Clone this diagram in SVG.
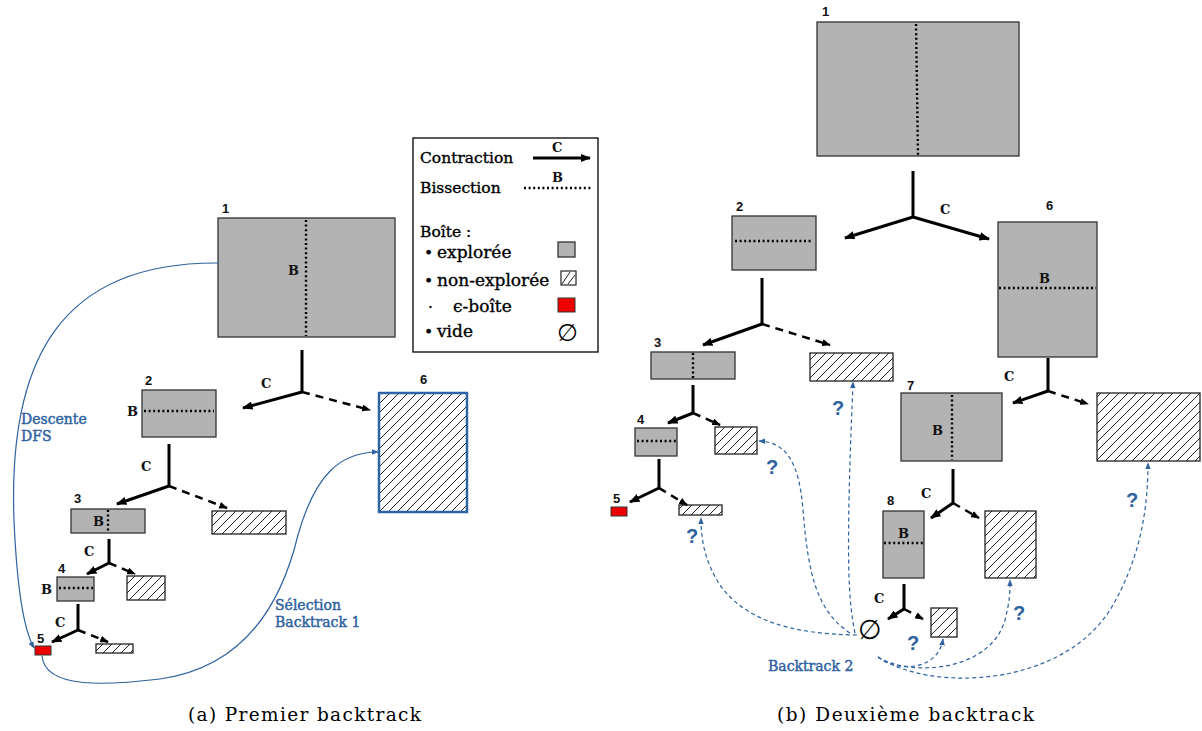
<svg xmlns="http://www.w3.org/2000/svg" width="1202" height="731" viewBox="0 0 1202 731">
<style>
.box{fill:#b3b3b3;stroke:#333;stroke-width:1.3}
.hatch{fill:url(#hp);stroke:#222;stroke-width:1.3}
.red{fill:#ee0000;stroke:#333;stroke-width:1}
.dot{stroke:#000;stroke-width:2.4;stroke-dasharray:2 2.6;fill:none}
.stem{stroke:#000;stroke-width:3;fill:none}
.sol{stroke:#000;stroke-width:3;fill:none;marker-end:url(#ah)}
.das{stroke:#000;stroke-width:2.5;stroke-dasharray:8 6;fill:none;marker-end:url(#ah)}
.num{font-family:"Liberation Sans",Arial,sans-serif;font-weight:bold;font-size:13px;fill:#111}
.lbl{font-family:"DejaVu Serif",serif;font-weight:bold;font-size:13px;fill:#111}
.leg{font-family:"DejaVu Serif",serif;font-size:15.5px;fill:#000;stroke:#000;stroke-width:0.35}
.item{font-size:17px}
.blue{font-family:"DejaVu Serif",serif;font-size:14px;fill:#2f62a0;stroke:#2f62a0;stroke-width:0.45}
.q{font-family:"Liberation Sans",Arial,sans-serif;font-weight:bold;font-size:20px;fill:#2f62a0}
.bsol{stroke:#2f62a0;stroke-width:1.2;fill:none;marker-end:url(#bh)}
.bdas{stroke:#2f62a0;stroke-width:1.2;stroke-dasharray:4 3;fill:none;marker-end:url(#bh)}
.cap{font-family:"DejaVu Serif",serif;font-size:18.5px;fill:#000}
.empty{font-family:"DejaVu Sans",sans-serif;fill:#000}
</style>
<defs>
<pattern id="hp" patternUnits="userSpaceOnUse" width="9" height="9">
<path d="M-1,10 L10,-1 M-1,1 L1,-1 M8,10 L10,8" stroke="#222" stroke-width="1"/>
</pattern>
<marker id="ah" viewBox="0 0 10 8" refX="9" refY="4" markerWidth="3.5" markerHeight="2.8" orient="auto">
<path d="M0,0 L10,4 L0,8 z" fill="#000"/>
</marker>
<marker id="bh" viewBox="0 0 10 8" refX="9" refY="4" markerWidth="7" markerHeight="5.6" orient="auto" markerUnits="userSpaceOnUse">
<path d="M0,0 L10,4 L0,8 z" fill="#2f62a0"/>
</marker>
</defs>
<rect width="1202" height="731" fill="#fff"/>

<!-- Legend -->
<g id="legend">
<rect x="413" y="138" width="185" height="214" fill="#fff" stroke="#000" stroke-width="1.3"/>
<text class="leg" x="420" y="163">Contraction</text>
<line x1="533" y1="158" x2="590" y2="158" class="sol" stroke-width="2.5"/>
<text class="lbl" x="552" y="152">C</text>
<text class="leg" x="420" y="193">Bissection</text>
<line x1="524" y1="188" x2="592" y2="188" class="dot" stroke-width="2"/>
<text class="lbl" x="552" y="182">B</text>
<text class="leg" x="420" y="237">Boîte :</text>
<text class="leg" x="424" y="258">•</text>
<text class="leg item" x="437" y="258">explorée</text>
<rect class="box" x="558" y="242" width="17" height="15"/>
<text class="leg" x="424" y="286">•</text>
<text class="leg item" x="437" y="286">non-explorée</text>
<rect x="561" y="271" width="15" height="14" fill="#fff" stroke="#222" stroke-width="1.2"/>
<path d="M562,284 L570,272 M568,284 L575,275" stroke="#222" stroke-width="1"/>
<text class="leg" x="428" y="312">·</text>
<text class="leg item" x="453" y="312">ϵ-boîte</text>
<rect class="red" x="558" y="298" width="17" height="14"/>
<text class="leg" x="424" y="337">•</text>
<text class="leg item" x="437" y="337">vide</text>
<text class="empty" x="557" y="341" font-size="24">∅</text>
</g>

<!-- Left panel nodes -->
<g id="a1">
<rect class="box" x="218" y="218" width="177" height="119"/>
<line class="dot" x1="306" y1="220" x2="306" y2="336"/>
<text class="lbl" x="288" y="275">B</text>
<text class="num" x="222" y="213">1</text>
</g>
<g id="a2">
<rect class="box" x="142" y="390" width="74" height="47"/>
<line class="dot" x1="144" y1="411" x2="214" y2="411"/>
<text class="lbl" x="127" y="416">B</text>
<text class="num" x="145" y="385">2</text>
</g>
<g id="a6">
<rect x="379" y="393" width="88" height="119" fill="url(#hp)" stroke="#2e64a4" stroke-width="2.5"/>
<text class="num" x="420" y="384">6</text>
</g>
<g id="a3">
<rect class="box" x="71" y="509" width="74" height="24"/>
<line class="dot" x1="108" y1="510" x2="108" y2="532"/>
<text class="lbl" x="93" y="526">B</text>
<text class="num" x="74" y="503">3</text>
</g>
<g id="a3h"><rect class="hatch" x="212" y="511" width="74" height="23"/></g>
<g id="a4">
<rect class="box" x="57" y="577" width="37" height="24"/>
<line class="dot" x1="59" y1="588" x2="93" y2="588"/>
<text class="lbl" x="41" y="594">B</text>
<text class="num" x="58" y="573">4</text>
</g>
<g id="a4h"><rect class="hatch" x="127" y="576" width="38" height="24"/></g>
<g id="a5">
<rect class="red" x="35" y="646" width="16" height="9"/>
<text class="num" x="37" y="643">5</text>
</g>
<g id="a5h"><rect class="hatch" x="96" y="644" width="37" height="9"/></g>

<!-- Right panel nodes -->
<g id="b1">
<rect class="box" x="817" y="22" width="202" height="134"/>
<line class="dot" x1="916" y1="24" x2="918" y2="155"/>
<text class="num" x="822" y="16">1</text>
</g>
<g id="b2">
<rect class="box" x="732" y="216" width="84" height="54"/>
<line class="dot" x1="735" y1="241" x2="813" y2="241"/>
<text class="num" x="736" y="211">2</text>
</g>
<g id="b6">
<rect class="box" x="998" y="222" width="99" height="135"/>
<line class="dot" x1="999" y1="288" x2="1096" y2="288"/>
<text class="lbl" x="1039" y="283">B</text>
<text class="num" x="1046" y="210">6</text>
</g>
<g id="b3">
<rect class="box" x="651" y="352" width="84" height="27"/>
<line class="dot" x1="693" y1="353" x2="693" y2="378"/>
<text class="num" x="654" y="347">3</text>
</g>
<g id="b3h"><rect class="hatch" x="810" y="353" width="83" height="28"/></g>
<g id="b4">
<rect class="box" x="635" y="428" width="42" height="28"/>
<line class="dot" x1="637" y1="441" x2="676" y2="441"/>
<text class="num" x="637" y="424">4</text>
</g>
<g id="b4h"><rect class="hatch" x="715" y="427" width="42" height="27"/></g>
<g id="b5">
<rect class="red" x="611" y="507" width="16" height="9"/>
<text class="num" x="613" y="503">5</text>
</g>
<g id="b5h"><rect class="hatch" x="679" y="505" width="43" height="10"/></g>
<g id="b7">
<rect class="box" x="901" y="393" width="101" height="68"/>
<line class="dot" x1="952" y1="395" x2="952" y2="460"/>
<text class="lbl" x="932" y="435">B</text>
<text class="num" x="907" y="390">7</text>
</g>
<g id="b7h"><rect class="hatch" x="1097" y="393" width="103" height="68"/></g>
<g id="b8">
<rect class="box" x="883" y="511" width="41" height="67"/>
<line class="dot" x1="884" y1="543" x2="923" y2="543"/>
<text class="lbl" x="898" y="538">B</text>
<text class="num" x="887" y="505">8</text>
</g>
<g id="b8h"><rect class="hatch" x="985" y="511" width="51" height="67"/></g>
<g id="b9h"><rect class="hatch" x="931" y="608" width="26" height="29"/></g>
<g id="bempty"><text class="empty" x="858" y="639" font-size="27">∅</text></g>

<!-- Connectors -->
<g id="connectors">
<path class="stem" d="M302,350 V392"/>
<path class="sol" d="M302,392 L243,408"/>
<path class="das" d="M302,392 L370,410"/>
<text class="lbl" x="261" y="388" font-size="14">C</text>

<path class="stem" d="M169,444 V486"/>
<path class="sol" d="M169,486 L117,504"/>
<path class="das" d="M169,486 L227,508"/>
<text class="lbl" x="141" y="471" font-size="14">C</text>

<path class="stem" d="M109,539 V563" stroke-width="2.6"/>
<path class="sol" d="M109,563 L87,574" stroke-width="2.6"/>
<path class="das" d="M109,563 L135,574" stroke-width="2.2" stroke-dasharray="6 5"/>
<text class="lbl" x="84" y="556" font-size="14">C</text>

<path class="stem" d="M78,604 V630" stroke-width="2.6"/>
<path class="sol" d="M78,630 L52,642" stroke-width="2.6"/>
<path class="das" d="M78,630 L108,642" stroke-width="2.2" stroke-dasharray="6 5"/>
<text class="lbl" x="55" y="627" font-size="14">C</text>

<path class="stem" d="M913,171 V217"/>
<path class="sol" d="M913,217 L845,238"/>
<path class="sol" d="M913,217 L989,239"/>
<text class="lbl" x="940" y="214" font-size="14">C</text>

<path class="stem" d="M762,278 V324"/>
<path class="sol" d="M762,324 L703,345"/>
<path class="das" d="M762,324 L830,345"/>

<path class="stem" d="M693,385 V413"/>
<path class="sol" d="M693,413 L668,423"/>
<path class="das" d="M693,413 L720,425" stroke-width="2.2" stroke-dasharray="6 5"/>

<path class="stem" d="M659,459 V488"/>
<path class="sol" d="M659,488 L630,502"/>
<path class="das" d="M659,488 L687,505" stroke-width="2.2" stroke-dasharray="6 5"/>

<path class="stem" d="M1048,358 V391"/>
<path class="sol" d="M1048,391 L1013,403"/>
<path class="das" d="M1048,391 L1088,404"/>
<text class="lbl" x="1004" y="381" font-size="14">C</text>

<path class="stem" d="M953,469 V503"/>
<path class="sol" d="M953,503 L931,518"/>
<path class="das" d="M953,503 L979,518" stroke-width="2.2" stroke-dasharray="6 5"/>
<text class="lbl" x="921" y="498" font-size="14">C</text>

<path class="stem" d="M904,584 V609"/>
<path class="sol" d="M904,609 L888,619"/>
<path class="das" d="M904,609 L923,619" stroke-width="2.2" stroke-dasharray="6 5"/>
<text class="lbl" x="874" y="603" font-size="14">C</text>

<!-- blue curves left -->
<path class="bsol" d="M218,263 C 60,262 8,360 14,520 C 17,590 24,630 34,648"/>
<path class="bsol" d="M42,656 C 45,690 110,685 160,679 C 240,668 280,610 298,535 C 315,475 340,452 378,452"/>
<!-- blue curves right -->
<path class="bdas" d="M857,635 C 790,634 745,620 720,585 C 705,562 701,540 701,518"/>
<path class="bdas" d="M850,633 C 815,610 808,570 803,510 C 799,460 785,442 759,441"/>
<path class="bdas" d="M855,633 C 848,600 848,560 849,500 C 850,450 852,410 853,382"/>
<path class="bdas" d="M878,657 C 895,672 938,672 943,639"/>
<path class="bdas" d="M878,657 C 910,677 990,672 1005,620 C 1010,600 1010,592 1010,580"/>
<path class="bdas" d="M878,657 C 930,692 1060,688 1110,610 C 1140,560 1148,510 1148,463"/>
</g>

<!-- blue labels -->
<g id="annotations">
<text class="blue" x="21" y="424">Descente</text>
<text class="blue" x="21" y="441">DFS</text>
<text class="blue" x="275" y="610">Sélection</text>
<text class="blue" x="275" y="627">Backtrack 1</text>
<text class="blue" x="768" y="671" font-size="16">Backtrack 2</text>
<text class="q" x="686" y="543">?</text>
<text class="q" x="766" y="474">?</text>
<text class="q" x="832" y="415">?</text>
<text class="q" x="1126" y="507">?</text>
<text class="q" x="1013" y="620">?</text>
<text class="q" x="907" y="650">?</text>
</g>

<!-- captions -->
<text class="cap" x="188" y="721" textLength="233" lengthAdjust="spacing">(a) Premier backtrack</text>
<text class="cap" x="777" y="721" textLength="257" lengthAdjust="spacing">(b) Deuxième backtrack</text>
</svg>
